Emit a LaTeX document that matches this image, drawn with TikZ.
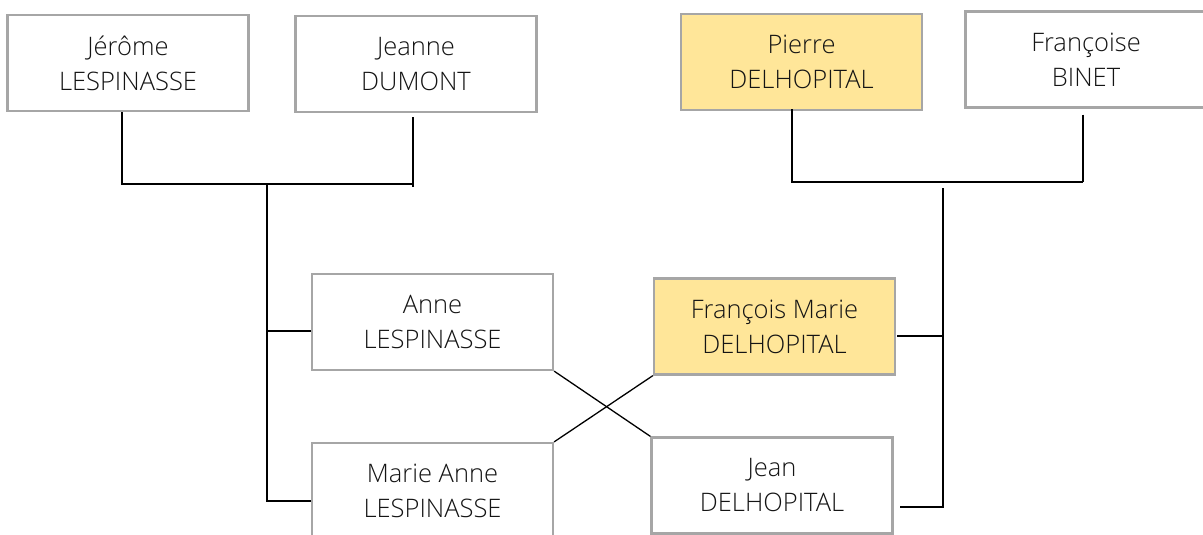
\documentclass[tikz,border=0pt]{standalone}
\usepackage{fontspec}
\setmainfont{Open Sans Light}
\usepackage{tikz}
\usetikzlibrary{positioning,calc}
\definecolor{boxline}{HTML}{A6A6A6}
\definecolor{softyellow}{HTML}{FFE699}
\definecolor{inktext}{HTML}{141414}
\tikzset{
  person/.style={draw=boxline,line width=2.2pt,fill=white,minimum width=241pt,minimum height=96pt,inner sep=0pt,align=center,text=inktext,font=\fontsize{25.5}{35}\selectfont},
  ancestor/.style={person,fill=softyellow},
  link/.style={draw=black,line width=1.3pt}
}
\begin{document}
\begin{tikzpicture}[x=1pt,y=-1pt]
  \useasboundingbox (0,0) rectangle (1203,535);

  % parents
  \node[person] (jerome) at (128,63) {Jérôme\\LESPINASSE};
  \node[person] (jeanne) at (416,64) {Jeanne\\DUMONT};
  \node[ancestor] (pierre) at (801.5,62) {Pierre\\DELHOPITAL};
  \node[person] (francoise) at (1086,59.5) {Françoise\\BINET};

  % children
  \node[person] (anne) at (432.5,322) {Anne\\LESPINASSE};
  \node[person] (marieanne) at (432.5,491) {Marie Anne\\LESPINASSE};
  \node[ancestor] (francoismarie) at (774.5,326.5) {François Marie\\DELHOPITAL};
  \node[person] (jean) at (772,485.5) {Jean\\DELHOPITAL};

  % LESPINASSE family
  \coordinate (lbar) at (413,184);
  \coordinate (ljoin) at (267,184);
  \coordinate (annein) at ([yshift=-9pt]anne.west);
  \draw[link] ([xshift=-6pt]jerome.south) |- (lbar);
  \draw[link] ([xshift=-3pt,yshift=-4pt]jeanne.south) -- ($(lbar)+(0,3)$);
  \draw[link] (ljoin) |- ([yshift=-10pt]marieanne.west);
  \draw[link] (annein) -- (ljoin |- annein);

  % DELHOPITAL family
  \coordinate (rbar) at (1083,182);
  \coordinate (rjoin) at (943,188);
  \coordinate (fmout) at ([xshift=1pt,yshift=-9.5pt]francoismarie.east);
  \draw[link] ([xshift=-9.5pt,yshift=2pt]pierre.south) |- (rbar);
  \draw[link] ([xshift=-3pt,yshift=-6pt]francoise.south) -- (rbar);
  \draw[link] (rjoin) |- ([xshift=6pt,yshift=-21.5pt]jean.east);
  \draw[link] (fmout) -- (rjoin |- fmout);

  % marriages
  \draw[link] (anne.south east) -- (jean.north west);
  \draw[link] (marieanne.north east) -- (francoismarie.south west);
\end{tikzpicture}
\end{document}
